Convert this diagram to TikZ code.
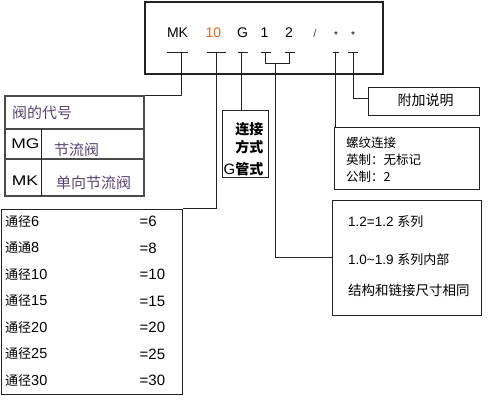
\documentclass[tikz,border=0pt]{standalone}
\usepackage{fontspec}
\setmainfont{Liberation Sans}
\newfontfamily\cjk{Noto Sans CJK SC}
\newfontfamily\song{Noto Sans CJK SC}
\usetikzlibrary{calc}
\definecolor{ln}{HTML}{222222}
\definecolor{gl}{HTML}{4A4A4A}
\definecolor{org}{HTML}{E06A1C}
\definecolor{vio}{HTML}{5B4470}
\newcommand\fsz[1]{\fontsize{#1}{#1}\selectfont}
\newcommand\drow[2]{{\cjk\fsz{13}#1}{\fsz{14.5}#2}}
\begin{document}
\begin{tikzpicture}[x=1pt,y=-1pt,
  lbl/.style={inner sep=0pt, text=black},
  box/.style={draw=ln, line width=0.9pt, inner sep=0pt},
  wire/.style={draw=ln, line width=0.9pt},
  rule/.style={draw=gl, line width=1.1pt}]
\useasboundingbox (0,0) rectangle (488,400);

% header box
\node[box, line width=1.1pt, minimum width=238pt, minimum height=72pt] (hdr) at (264,38) {};
\node[lbl, anchor=base, font=\fsz{14}] (tMK) at (177.5,37.5) {MK};
\node[lbl, anchor=base, font=\fsz{14}, text=org] (t10) at (213.5,37.5) {10};
\node[lbl, anchor=base, font=\fsz{14}] (tG) at (242.5,37.5) {G};
\node[lbl, anchor=base, font=\fsz{14}] (t1) at (264.5,37.5) {1};
\node[lbl, anchor=base, font=\fsz{14}] (t2) at (289,37.5) {2};
\node[lbl, anchor=base, font=\fsz{11}, text=gl] (tsl) at (315,37) {/};
\node[lbl, anchor=north, font=\fsz{10}] (ta) at (336,31) {*};
\node[lbl, anchor=north, font=\fsz{10}] (tb) at (353,31) {*};

% underlines
\draw[wire] (167,52) -- (188,52);
\draw[wire] (207,52) -- (226,52);
\draw[wire] (238,52) -- (248,52);
\draw[wire] (261,52) -- (271,52);
\draw[wire] (285,52) -- (295,52);
\draw[wire] (333,52) -- (339,52);
\draw[wire] (348,52) -- (358,52);

\coordinate (uMK) at (181.7,52);
\coordinate (u10) at (216,52);
\coordinate (uG) at (241.7,52);
\coordinate (u1) at (265.7,52);
\coordinate (u2) at (289.7,52);
\coordinate (br1) at (265.7,63.3);
\coordinate (br2) at (289.7,63.3);
\coordinate (bm) at (275.7,63.3);
\coordinate (ua) at (335,52);
\coordinate (ub) at (353.3,52);

% code table
\node[box, draw=gl, line width=1.1pt, minimum width=139pt, minimum height=100pt] (codes) at (74.5,146) {};
\draw[rule] (5,129) -- (144,129);
\draw[rule] (5,159) -- (144,159);
\draw[wire] (41.7,129) -- (41.7,196);
\node[lbl, anchor=base west, font=\song\fsz{15}, text=vio] (cTitle) at (12,118.5) {阀的代号};
\node[lbl, anchor=base, font=\fsz{14}] (cMG) at (25.5,148) {\scalebox{1.25}[1]{MG}};
\node[lbl, anchor=base west, font=\song\fsz{15}, text=vio] (cMGt) at (54,155) {节流阀};
\node[lbl, anchor=base, font=\fsz{14}] (cMK) at (25,185) {\scalebox{1.25}[1]{MK}};
\node[lbl, anchor=base west, font=\song\fsz{15}, text=vio] (cMKt) at (56,188.5) {单向节流阀};

% diameter table
\node[box, minimum width=181.7pt, minimum height=185pt] (dia) at (91.85,301.5) {};
\node[lbl, anchor=base west] (d1) at (5,226) {\drow{通径}{6}};
\node[lbl, anchor=base west] (d2) at (5,252.5) {\drow{通通}{8}};
\node[lbl, anchor=base west] (d3) at (5,279) {\drow{通径}{10}};
\node[lbl, anchor=base west] (d4) at (5,305.5) {\drow{通径}{15}};
\node[lbl, anchor=base west] (d5) at (5,332) {\drow{通径}{20}};
\node[lbl, anchor=base west] (d6) at (5,358.5) {\drow{通径}{25}};
\node[lbl, anchor=base west] (d7) at (5,385) {\drow{通径}{30}};
\node[lbl, anchor=base west, font=\fsz{15}] (e1) at (139.5,226.5) {=6};
\node[lbl, anchor=base west, font=\fsz{15}] (e2) at (139.5,253) {=8};
\node[lbl, anchor=base west, font=\fsz{15}] (e3) at (139.5,279.5) {=10};
\node[lbl, anchor=base west, font=\fsz{15}] (e4) at (139.5,306) {=15};
\node[lbl, anchor=base west, font=\fsz{15}] (e5) at (139.5,332.5) {=20};
\node[lbl, anchor=base west, font=\fsz{15}] (e6) at (139.5,359) {=25};
\node[lbl, anchor=base west, font=\fsz{15}] (e7) at (139.5,385.5) {=30};

% G box
\node[box, minimum width=46.7pt, minimum height=67pt] (gbox) at (245.35,143.5) {};
\node[lbl, anchor=base east, font=\song\bfseries\fsz{14}] (g1) at (263.5,134) {连接};
\node[lbl, anchor=base east, font=\song\bfseries\fsz{14}] (g2) at (263.5,152) {方式};
\node[lbl, anchor=base east, font=\song\bfseries\fsz{14}] (g3) at (263.5,174) {{\fsz{15}\mdseries\rmfamily G}管式};

% series box
\node[box, minimum width=149pt, minimum height=115pt] (ser) at (406.5,257.5) {};
\node[lbl, anchor=base west, font=\fsz{13.5}] (s1) at (348,226) {1.2=1.2 {\cjk\fsz{13}系列}};
\node[lbl, anchor=base west, font=\fsz{13.5}] (s2) at (348,264) {1.0\char`\~1.9 {\cjk\fsz{13}系列内部}};
\node[lbl, anchor=base west, font=\cjk\fsz{13.5}] (s3) at (348,295.5) {结构和链接尺寸相同};

% thread box
\node[box, minimum width=144.7pt, minimum height=61.3pt] (thr) at (406.65,158.35) {};
\node[lbl, anchor=base west, font=\song\fsz{12.5}] (h1) at (346,147) {螺纹连接};
\node[lbl, anchor=base west, font=\song\fsz{12.5}] (h2) at (346,164) {英制：无标记};
\node[lbl, anchor=base west, font=\song\fsz{12.5}] (h3) at (346,181) {公制：2};

% extra box
\node[box, minimum width=111pt, minimum height=28pt] (fj) at (423.5,101) {};
\node[lbl, anchor=base, font=\song\fsz{14}] (fjt) at (425.5,105.5) {附加说明};

% connectors
\draw[wire] (uMK) |- (codes.north east);
\draw[wire] (u10) |- (dia.north east);
\draw[wire] (uG) -- (uG |- gbox.north);
\draw[wire] (u1) -- (br1) -- (br2) -- (u2);
\draw[wire] (bm) |- (ser.west);
\draw[wire] (ua) -- (ua |- thr.north);
\draw[wire] (ub) |- ($(fj.west)+(0,-3)$);
\end{tikzpicture}
\end{document}
